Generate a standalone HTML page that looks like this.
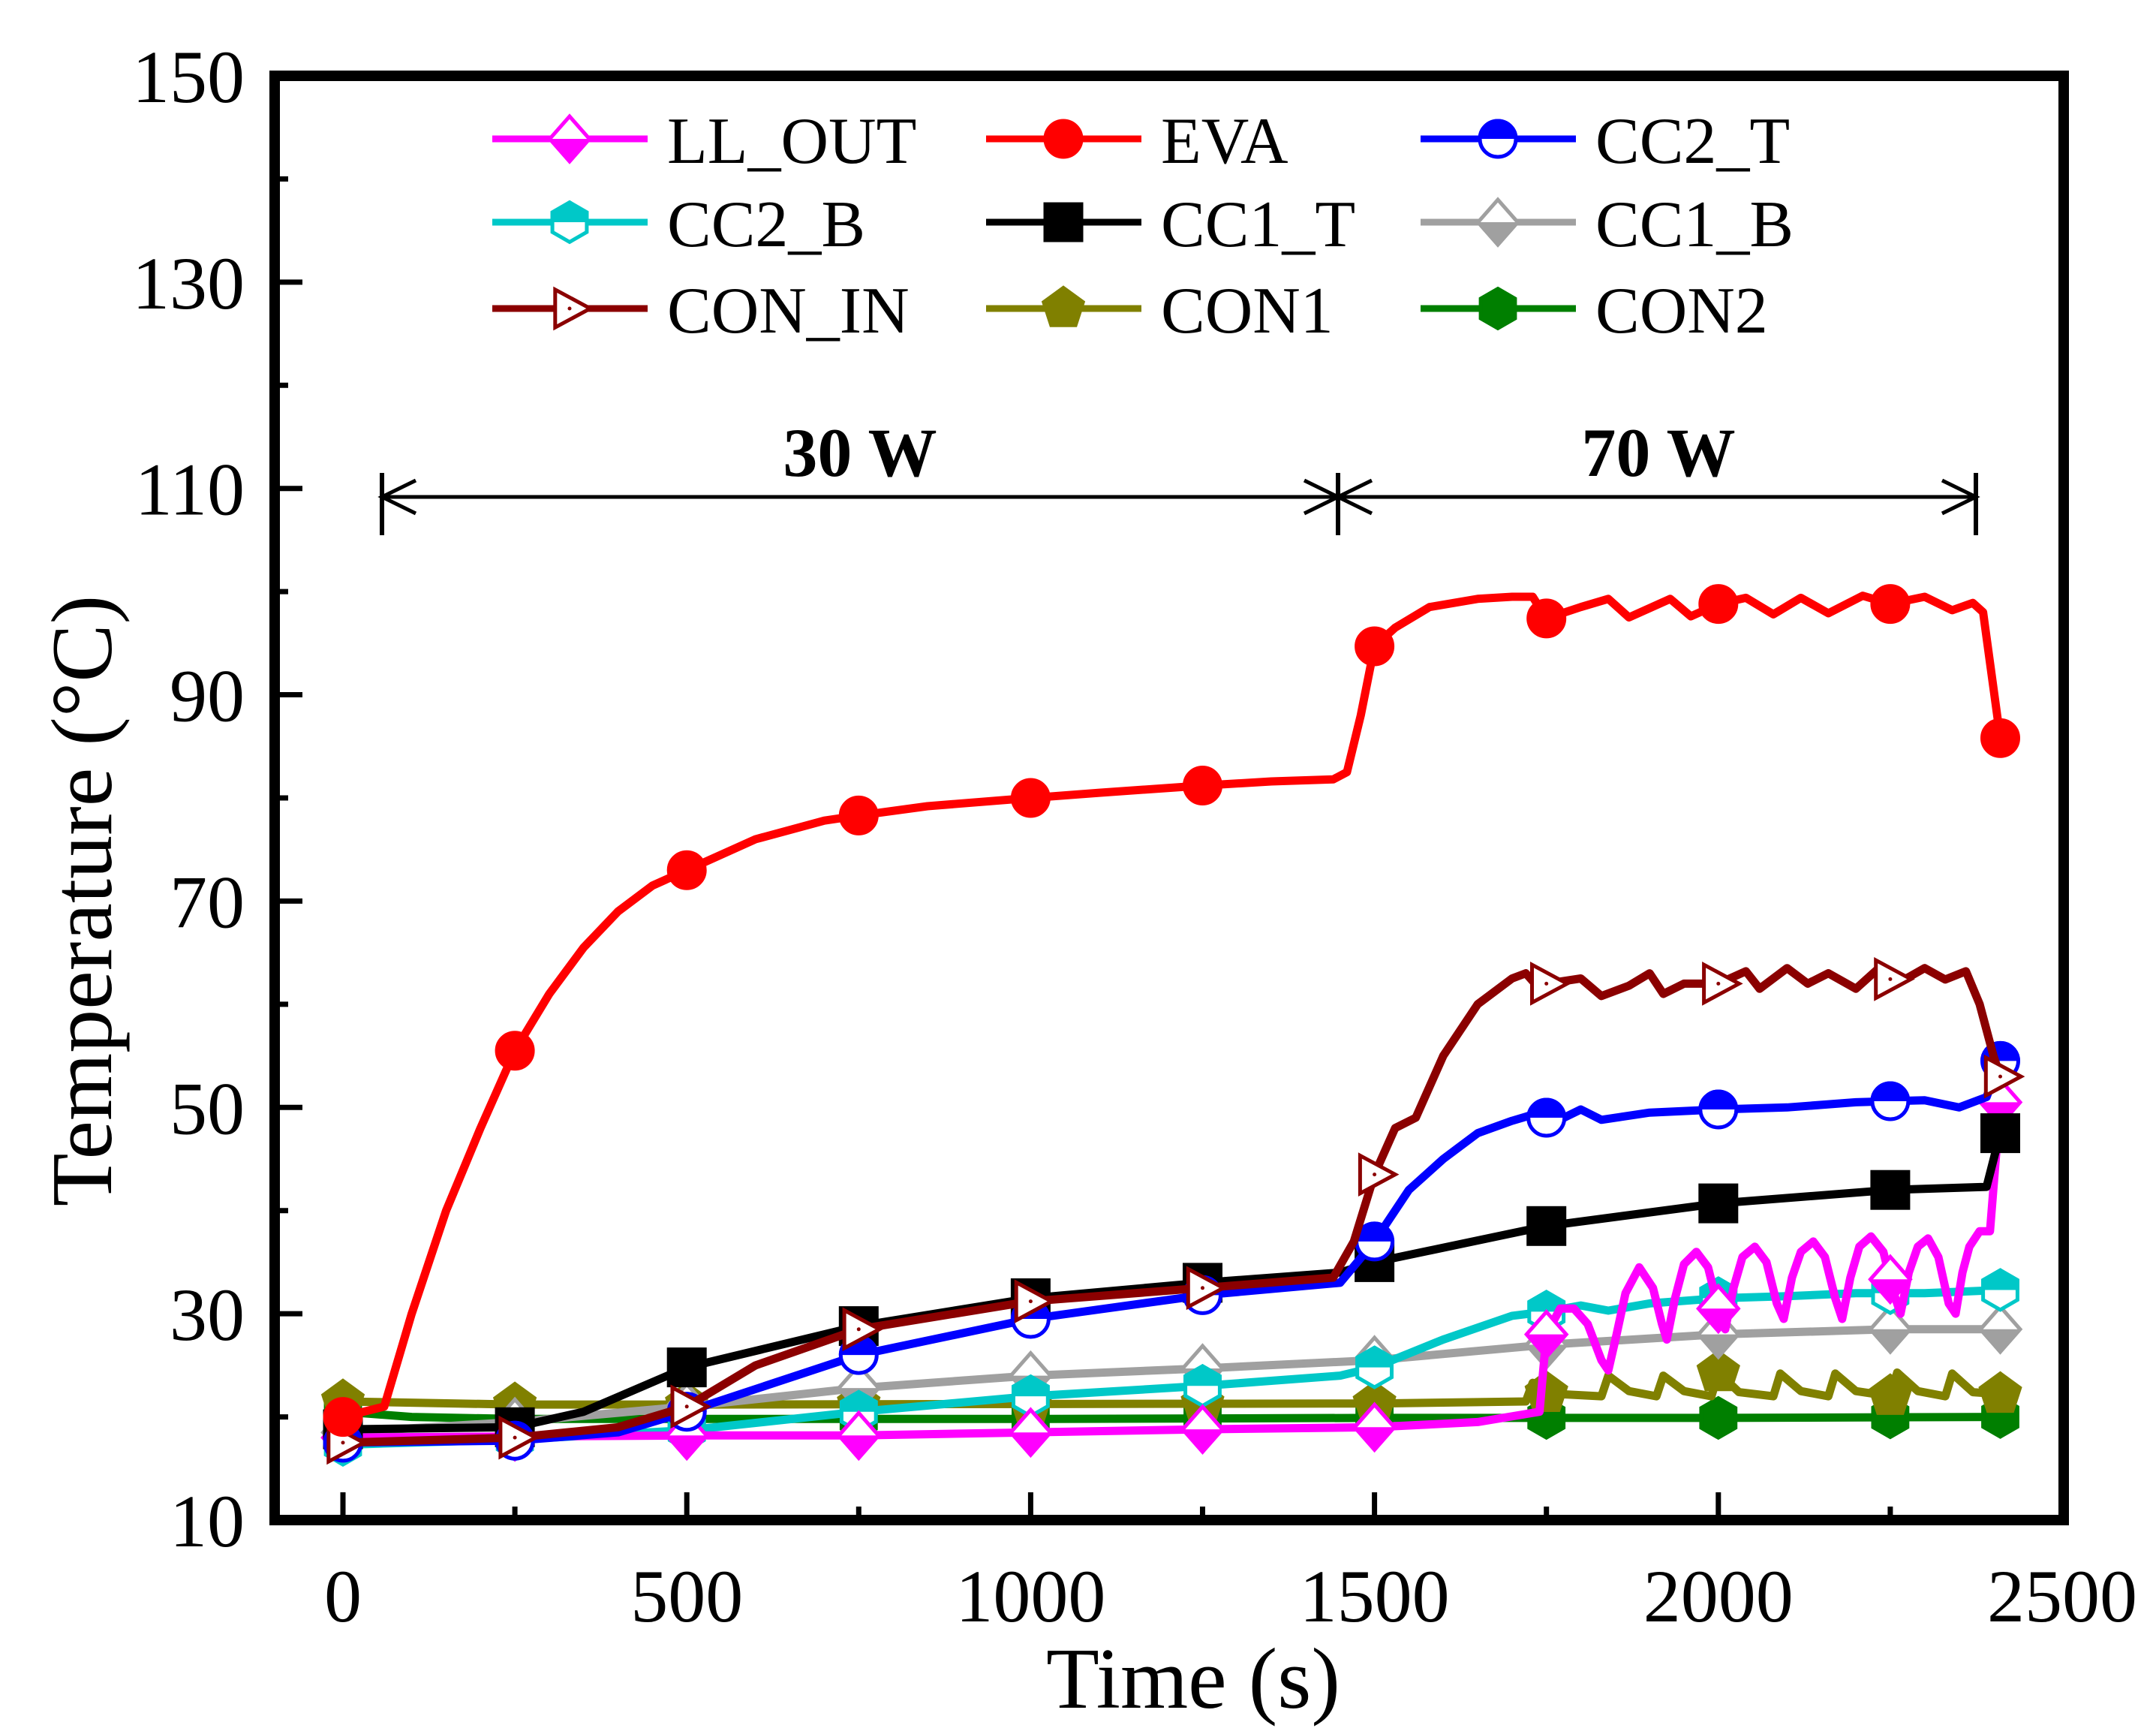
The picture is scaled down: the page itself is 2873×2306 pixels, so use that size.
<!DOCTYPE html>
<html><head><meta charset="utf-8"><style>
html,body{margin:0;padding:0;background:#fff}
svg{display:block}
text{font-family:"Liberation Serif",serif;fill:#000}
</style></head><body>
<svg id="chart" width="2873" height="2306" viewBox="0 0 2873 2306" xmlns="http://www.w3.org/2000/svg">
<defs>
<clipPath id="topHalf" clipPathUnits="userSpaceOnUse"><rect x="-40" y="-40" width="80" height="40"/></clipPath>
<clipPath id="botHalf" clipPathUnits="userSpaceOnUse"><rect x="-40" y="0" width="80" height="40"/></clipPath>
</defs>
<g id="series"></g>
<g id="axes"></g>
<g id="legend"></g>
</svg>
<script>
const xTicks=[0,500,1000,1500,2000,2500];
const yTicks=[10,30,50,70,90,110,130,150];
const markerTimes=[0,250,500,750,1000,1250,1500,1750,2000,2250,2410];

const evaT=[0,60,100,150,200,250,300,350,400,450,500,600,700,750,850,1000,1100,1250,1350,1440,1460,1480,1500,1530,1580,1650,1700,1730,1750,1800,1840,1870,1930,1960,2000,2040,2080,2120,2160,2210,2250,2300,2340,2370,2385,2410];
const evaV=[20,21,30,40,48,55.5,61,65.5,69,71.5,73,76,77.8,78.3,79.2,80,80.5,81.2,81.6,81.8,82.5,88,94.7,96.5,98.5,99.3,99.5,99.5,97.4,98.5,99.3,97.5,99.3,97.6,98.8,99.4,97.8,99.4,97.9,99.6,98.8,99.5,98.2,98.9,98,85.8];

const conInT=[0,250,400,500,600,750,1000,1250,1440,1470,1500,1530,1560,1600,1650,1700,1720,1740,1750,1800,1830,1870,1900,1920,1950,2000,2040,2060,2100,2130,2160,2200,2230,2260,2300,2330,2360,2380,2400,2410];
const conInV=[17.5,18,19,21,25,28.5,31.2,32.5,33.5,37,43.5,48,49,55,60,62.5,63,61.5,62,62.5,60.8,61.8,63,61,62,62,63.2,61.5,63.5,62,63,61.5,63.3,62,63.5,62.4,63.2,60,55,53];

const cc2tT=[0,250,400,500,750,1000,1250,1450,1500,1550,1600,1650,1700,1740,1760,1800,1830,1900,2000,2100,2200,2300,2350,2390,2410];
const cc2tV=[17.5,17.7,18.5,20.5,26,29.5,31.8,33,37,42,45,47.5,48.7,49.5,48.5,49.8,48.8,49.5,49.8,50,50.5,50.7,50,51,54.5];

const cc1tT=[0,250,350,500,750,1000,1250,1450,1500,1750,2000,2250,2390,2410];
const cc1tV=[18.8,19,20.5,24.8,28.8,31.5,33,34,35,38.5,40.7,42,42.3,47.5];

const cc2bT=[0,250,500,750,1000,1250,1450,1500,1600,1700,1750,1800,1840,1900,2000,2100,2200,2300,2410];
const cc2bV=[17.3,17.8,18.7,20.5,22,23,24,24.8,27.5,29.8,30.2,30.8,30.3,31,31.5,31.7,32,32,32.3];

const cc1bT=[0,250,500,750,1000,1250,1500,1750,2000,2250,2410];
const cc1bV=[18.5,19.5,21,22.8,24,24.7,25.5,27,28,28.5,28.5];

const con1T=[0,250,500,1500,1720,1730,1745,1830,1840,1870,1910,1920,1950,1990,2000,2030,2080,2090,2120,2160,2170,2200,2250,2260,2290,2330,2340,2370,2410];
const con1V=[21.5,21.2,21.2,21.3,21.5,23.3,22.3,22,24,22.5,22,24,22.5,22,24.3,22.4,22,24.2,22.5,22,24.2,22.5,22,24.3,22.5,22,24.2,22.4,22.2];

const con2T=[0,100,250,500,1000,1500,2000,2410];
const con2V=[20.5,20,19.8,19.8,19.8,19.9,19.9,20];

const llT=[0,500,750,1000,1250,1500,1650,1740,1750,1770,1790,1810,1830,1840,1852,1865,1885,1905,1918,1925,1937,1950,1968,1985,2000,2010,2022,2035,2053,2070,2085,2095,2107,2120,2138,2155,2170,2180,2192,2205,2222,2240,2255,2265,2277,2290,2305,2320,2335,2345,2355,2365,2380,2395,2410];
const llV=[18,18.2,18.2,18.5,18.8,19,19.5,20.5,28,30.5,30.5,29,25.5,24.5,28,32,34.5,32.5,29,27.5,31.5,34.8,36,34.5,30.5,28.5,32.5,35.5,36.5,35,31,29.5,33.5,36,37,35.5,31.5,29.5,33.5,36.5,37.5,36,32,30,34,36.5,37.3,35.5,31,30,34,36.5,38,38,50.5];

const X0=457, XS=0.9164, Y10=2025, YS=13.743;
function sx(t){return X0+t*XS;}
function sy(v){return Y10-(v-10)*YS;}
const NS="http://www.w3.org/2000/svg";
function mk(tag,attrs,parent){const e=document.createElementNS(NS,tag);for(const k in attrs)e.setAttribute(k,attrs[k]);if(parent)parent.appendChild(e);return e;}
function interp(T,V,t){if(t<=T[0])return V[0];for(let i=1;i<T.length;i++){if(t<=T[i]){const f=(t-T[i-1])/(T[i]-T[i-1]);return V[i-1]+f*(V[i]-V[i-1]);}}return V[V.length-1];}

const R=24;
function shapeEl(type,g,fill,stroke){
  let e;
  if(type==='circle') e=mk('circle',{cx:0,cy:0,r:R},g);
  else if(type==='square') e=mk('rect',{x:-R,y:-R,width:2*R,height:2*R},g);
  else if(type==='diamond') e=mk('polygon',{points:`0,${-R*1.25} ${R*1.1},0 0,${R*1.25} ${-R*1.1},0`},g);
  else if(type==='hex'){let p=[];for(let i=0;i<6;i++){const a=Math.PI/180*(60*i-90);p.push((R*1.1*Math.cos(a)).toFixed(1)+','+(R*1.1*Math.sin(a)).toFixed(1));}e=mk('polygon',{points:p.join(' ')},g);}
  else if(type==='pent'){let p=[];for(let i=0;i<5;i++){const a=Math.PI/180*(72*i-90);p.push((R*1.15*Math.cos(a)).toFixed(1)+','+(R*1.15*Math.sin(a)).toFixed(1));}e=mk('polygon',{points:p.join(' ')},g);}
  else if(type==='tri') e=mk('polygon',{points:`${-R*0.8},${-R*1.05} ${R*1.15},0 ${-R*0.8},${R*1.05}`},g);
  e.setAttribute('fill',fill);e.setAttribute('stroke',stroke);e.setAttribute('stroke-width',5);
  return e;
}
function drawMarker(parent,x,y,type,color,half){
  const g=mk('g',{transform:`translate(${x.toFixed(1)},${y.toFixed(1)})`},parent);
  if(half==='open'){shapeEl(type,g,'#fff',color);mk('circle',{cx:0,cy:0,r:2.5,fill:color},g);}
  else if(half){shapeEl(type,g,'#fff',color);const f=shapeEl(type,g,color,color);f.setAttribute('clip-path',half==='top'?'url(#topHalf)':'url(#botHalf)');}
  else shapeEl(type,g,color,color);
  return g;
}

const seriesDefs=[
 ['con2',con2T,con2V,'#007f00','hex',null],
 ['con1',con1T,con1V,'#808000','pent',null],
 ['cc1-b',cc1bT,cc1bV,'#a0a0a0','diamond','bot'],
 ['cc2-b',cc2bT,cc2bV,'#00c8c8','hex','top'],
 ['ll-out',llT,llV,'#ff00ff','diamond','bot'],
 ['cc1-t',cc1tT,cc1tV,'#000000','square',null],
 ['cc2-t',cc2tT,cc2tV,'#0000ff','circle','top'],
 ['con-in',conInT,conInV,'#8b0000','tri','open'],
 ['eva',evaT,evaV,'#ff0000','circle',null]
];
const sg=document.getElementById('series');
seriesDefs.forEach(d=>{
  const [name,T,V,col,shape,half]=d;
  const g=mk('g',{},sg);
  
  
  const pts=T.map((t,i)=>sx(t).toFixed(1)+','+sy(V[i]).toFixed(1)).join(' ');
  const pl=mk('polyline',{points:pts,fill:'none',stroke:col,'stroke-width':11,'stroke-linejoin':'round','stroke-linecap':'round'},g);
  
  
  markerTimes.forEach(t=>{
    const m=drawMarker(g,sx(t),sy(interp(T,V,t)),shape,col,half);
    
    
  });
});

// axes
const ax=document.getElementById('axes');
mk('rect',{x:366,y:101,width:2384,height:1924,fill:'none',stroke:'#000','stroke-width':14},ax);
for(let v=10;v<=150;v+=10){const major=(v-10)%20===0;mk('line',{x1:366,x2:366+(major?37:18),y1:sy(v),y2:sy(v),stroke:'#000','stroke-width':7},ax);}
for(let t=0;t<=2500;t+=250){const major=t%500===0;mk('line',{x1:sx(t),x2:sx(t),y1:2025,y2:2025-(major?37:18),stroke:'#000','stroke-width':7},ax);}
yTicks.forEach(v=>{const e=mk('text',{x:326,y:sy(v)+35,'text-anchor':'end','font-size':100},ax);e.textContent=v;});
xTicks.forEach(t=>{const e=mk('text',{x:sx(t),y:2160,'text-anchor':'middle','font-size':100},ax);e.textContent=t;});
let xt=mk('text',{x:1590,y:2275,'text-anchor':'middle','font-size':116},ax);xt.textContent='Time (s)';


let yt=mk('text',{x:0,y:0,'text-anchor':'middle','font-size':116,transform:'translate(148,1200) rotate(-90)'},ax);yt.textContent='Temperature (°C)';



// power annotation
const an=mk('g',{},ax);


const aY=662, aL=509, aM=1783, aR=2633;
mk('line',{x1:aL,x2:aR,y1:aY,y2:aY,stroke:'#000','stroke-width':5},an);
[aL,aM,aR].forEach(x=>mk('line',{x1:x,x2:x,y1:630,y2:713,stroke:'#000','stroke-width':6},an));
function head(x,dir){mk('polyline',{points:`${x+dir*45},${aY-22} ${x},${aY} ${x+dir*45},${aY+22}`,fill:'none',stroke:'#000','stroke-width':5},an);}
head(aL,1);head(aM,-1);head(aM,1);head(aR,-1);
let t30=mk('text',{x:1146,y:634,'text-anchor':'middle','font-size':92,'font-weight':'bold'},an);t30.textContent='30 W';
let t70=mk('text',{x:2210,y:634,'text-anchor':'middle','font-size':92,'font-weight':'bold'},an);t70.textContent='70 W';

// legend
const lg=document.getElementById('legend');
const legendItems=[['LL_OUT','#ff00ff','diamond','bot'],['EVA','#ff0000','circle',null],['CC2_T','#0000ff','circle','top'],
['CC2_B','#00c8c8','hex','top'],['CC1_T','#000000','square',null],['CC1_B','#a0a0a0','diamond','bot'],
['CON_IN','#8b0000','tri','open'],['CON1','#808000','pent',null],['CON2','#007f00','hex',null]];
const colX=[656,1314,1893], rowY=[185,296,411];
legendItems.forEach((it,i)=>{
  const c=i%3,r=Math.floor(i/3);
  const g=mk('g',{},lg);
  
  
  mk('line',{x1:colX[c],x2:colX[c]+207,y1:rowY[r],y2:rowY[r],stroke:it[1],'stroke-width':9},g);
  drawMarker(g,colX[c]+103,rowY[r],it[2],it[1],it[3]);
  const t=mk('text',{x:colX[c]+233,y:rowY[r]+32,'font-size':88},g);t.textContent=it[0];
});
</script>
</body></html>
